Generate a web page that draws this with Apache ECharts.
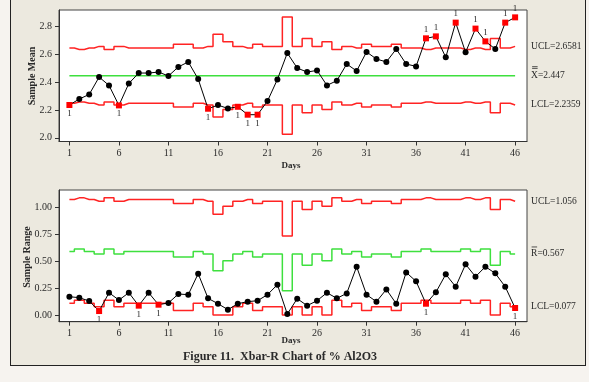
<!DOCTYPE html>
<html>
<head>
<meta charset="utf-8">
<script src="https://cdn.jsdelivr.net/npm/echarts@6/dist/echarts.min.js"></script>
<style>
html,body{margin:0;padding:0;background:#f6f3ef;}
#frame{position:absolute;left:10px;top:0;width:576px;height:366px;box-sizing:border-box;background:#ece9df;border:1px solid #222;border-top:none;}
#main{position:absolute;left:0;top:0;width:589px;height:382px;}
</style>
</head>
<body>
<div id="frame"></div>
<div id="main"></div>
<script>
// days / ticks
const days = [1,2,3,4,5,6,7,8,9,10,11,12,13,14,15,16,17,18,19,20,21,22,23,24,25,26,27,28,29,30,31,32,33,34,35,36,37,38,39,40,41,42,43,44,45,46];
const dayTicks = [1,6,11,16,21,26,31,36,41,46];
const meanTicks = [2.0,2.2,2.4,2.6,2.8];
const rangeTicks = [0,0.25,0.5,0.75,1.0];

// Xbar chart
const xbar = [2.236,2.279,2.312,2.437,2.377,2.233,2.391,2.466,2.466,2.473,2.445,2.510,2.546,2.423,2.209,2.235,2.211,2.223,2.166,2.166,2.264,2.420,2.610,2.502,2.473,2.485,2.377,2.411,2.531,2.481,2.618,2.567,2.546,2.639,2.531,2.514,2.716,2.730,2.579,2.829,2.615,2.786,2.694,2.639,2.829,2.867];
const xbarUCL = [2.646,2.636,2.646,2.658,2.636,2.658,2.646,2.646,2.646,2.646,2.646,2.673,2.673,2.646,2.658,2.746,2.691,2.658,2.646,2.673,2.658,2.658,2.869,2.658,2.714,2.658,2.691,2.636,2.658,2.646,2.673,2.658,2.658,2.673,2.646,2.646,2.636,2.646,2.646,2.646,2.636,2.646,2.636,2.714,2.646,2.658];
const xbarLCL = [2.248,2.258,2.248,2.236,2.258,2.236,2.248,2.248,2.248,2.248,2.248,2.221,2.221,2.248,2.236,2.149,2.203,2.236,2.248,2.221,2.236,2.236,2.025,2.236,2.180,2.236,2.203,2.258,2.236,2.248,2.221,2.236,2.236,2.221,2.248,2.248,2.258,2.248,2.248,2.248,2.258,2.248,2.258,2.180,2.248,2.236];
const xbarCenter = 2.447;

// R chart
const range = [0.170,0.161,0.130,0.037,0.207,0.139,0.207,0.087,0.207,0.096,0.112,0.195,0.189,0.384,0.155,0.105,0.050,0.105,0.124,0.133,0.189,0.282,0.009,0.152,0.087,0.133,0.207,0.155,0.201,0.449,0.189,0.124,0.238,0.105,0.396,0.313,0.105,0.211,0.378,0.263,0.471,0.356,0.449,0.387,0.263,0.065];
const rangeUCL = [1.073,1.088,1.073,1.056,1.088,1.056,1.073,1.073,1.073,1.073,1.073,1.035,1.035,1.073,1.056,0.935,1.011,1.056,1.073,1.035,1.056,1.056,0.734,1.056,0.979,1.056,1.011,1.088,1.056,1.073,1.035,1.056,1.056,1.035,1.073,1.073,1.088,1.073,1.073,1.073,1.088,1.073,1.088,0.979,1.073,1.056];
const rangeCL = [0.591,0.613,0.591,0.567,0.613,0.567,0.591,0.591,0.591,0.591,0.591,0.538,0.538,0.591,0.567,0.410,0.504,0.567,0.591,0.538,0.567,0.567,0.225,0.567,0.463,0.567,0.504,0.613,0.567,0.591,0.538,0.567,0.567,0.538,0.591,0.591,0.613,0.591,0.591,0.591,0.613,0.591,0.613,0.463,0.591,0.567];
const rangeLCL = [0.109,0.137,0.109,0.077,0.137,0.077,0.109,0.109,0.109,0.109,0.109,0.041,0.041,0.109,0.077,0,0,0.077,0.109,0.041,0.077,0.077,0,0.077,0,0.077,0,0.137,0.077,0.109,0.041,0.077,0.077,0.041,0.109,0.109,0.137,0.109,0.109,0.109,0.137,0.109,0.137,0,0.109,0.077];

const FONT = 'Liberation Serif';
const RED = '#ff2323';
const GREEN = '#3ee03e';
const TXT = '#2a2a2a';

function pts(vals){
    return days.map(function(d,i){ return [d, vals[i]]; });
}

// points outside the limits -> red square with "1"
function tests(vals, ucl, lcl){
    return days.map(function(d,i){
        let v = vals[i];
        if(v > ucl[i] || v < lcl[i]){
            return {
                value:[d,v],
                symbol:'rect',
                symbolSize:6,
                itemStyle:{color:'#ff0000'},
                label:{show:true, formatter:'1', position: v > ucl[i] ? 'top' : 'bottom', distance:1,
                       fontFamily:FONT, fontSize:9, color:TXT}
            };
        }
        return [d,v];
    });
}

function stepLine(vals, color, gi){
    return {type:'line', step:'middle', xAxisIndex:gi, yAxisIndex:gi, data:pts(vals),
            symbol:'none', silent:true, lineStyle:{color:color, width:1.5}};
}

function xAxisCfg(gi){
    return {
        type:'value', gridIndex:gi, min:-0.05, max:47.2,
        axisLine:{show:true, onZero:false, lineStyle:{color:'#333'}},
        axisTick:{show:true, customValues:dayTicks, length:4, lineStyle:{color:'#333'}},
        axisLabel:{customValues:dayTicks, margin:7, fontSize:10, color:TXT, fontFamily:FONT},
        splitLine:{show:false}
    };
}

function yAxisCfg(gi, min, max, ticks, dec){
    return {
        type:'value', gridIndex:gi, min:min, max:max,
        axisLine:{show:true, onZero:false, lineStyle:{color:'#333'}},
        axisTick:{show:true, customValues:ticks, length:4, lineStyle:{color:'#333'}},
        axisLabel:{customValues:ticks, margin:7, fontSize:10, color:TXT, fontFamily:FONT,
                   formatter:function(v){ return v.toFixed(dec); }},
        splitLine:{show:false}
    };
}

let myChart = echarts.init(document.getElementById('main'));
myChart.setOption({
    animation:false,
    backgroundColor:'transparent',
    grid:[
        {left:59, top:10, width:468, height:131.5, show:true, backgroundColor:'#fff', borderColor:'#444', borderWidth:1},
        {left:59, top:190, width:468, height:131.7, show:true, backgroundColor:'#fff', borderColor:'#444', borderWidth:1}
    ],
    xAxis:[xAxisCfg(0), xAxisCfg(1)],
    yAxis:[yAxisCfg(0, 1.973, 2.92, meanTicks, 1), yAxisCfg(1, -0.062, 1.161, rangeTicks, 2)],
    series:[
        stepLine(xbarUCL, RED, 0),
        stepLine(xbarLCL, RED, 0),
        {type:'line', xAxisIndex:0, yAxisIndex:0, data:[[days[0],xbarCenter],[days[days.length-1],xbarCenter]],
         symbol:'none', silent:true, lineStyle:{color:GREEN, width:1.5}},
        {type:'line', xAxisIndex:0, yAxisIndex:0, data:tests(xbar, xbarUCL, xbarLCL),
         symbol:'circle', symbolSize:6, itemStyle:{color:'#000'}, lineStyle:{color:'#000', width:1}},
        stepLine(rangeUCL, RED, 1),
        stepLine(rangeCL, GREEN, 1),
        stepLine(rangeLCL, RED, 1),
        {type:'line', xAxisIndex:1, yAxisIndex:1, data:tests(range, rangeUCL, rangeLCL),
         symbol:'circle', symbolSize:6, itemStyle:{color:'#000'}, lineStyle:{color:'#000', width:1}}
    ]
});

// right side limit labels, axis titles, caption
function at(gi, y){ return myChart.convertToPixel({gridIndex:gi}, [days[days.length-1], y]); }
function txt(x, y, s, size, weight, align, rot){
    return {
        type:'text', x:x, y:y, rotation:rot || 0, silent:true,
        style:{text:s, x:0, y:0, fill:TXT, fontFamily:FONT, fontSize:size, fontWeight:weight,
               align:align, verticalAlign:'middle'}
    };
}
function bar(x1, x2, y){
    return {type:'line', shape:{x1:x1, y1:y, x2:x2, y2:y}, style:{stroke:TXT, lineWidth:0.8}, silent:true};
}

let u0 = at(0, 2.6581), c0 = at(0, xbarCenter), l0 = at(0, 2.2359);
let u1 = at(1, 1.056), c1 = at(1, 0.567), l1 = at(1, 0.077);
let lx = u0[0] + 16;

myChart.setOption({
    graphic:[
        txt(lx, u0[1], 'UCL=2.6581', 9.5, 'normal', 'left'),
        txt(lx, c0[1], 'X=2.447', 9.5, 'normal', 'left'),
        bar(lx + 1, lx + 6.5, c0[1] - 9),
        bar(lx + 1, lx + 6.5, c0[1] - 7.3),
        txt(lx, l0[1], 'LCL=2.2359', 9.5, 'normal', 'left'),
        txt(lx, u1[1], 'UCL=1.056', 9.5, 'normal', 'left'),
        txt(lx, c1[1], 'R=0.567', 9.5, 'normal', 'left'),
        bar(lx + 0.5, lx + 6, c1[1] - 7),
        txt(lx, l1[1], 'LCL=0.077', 9.5, 'normal', 'left'),
        txt(32, 76, 'Sample Mean', 10, 'bold', 'center', Math.PI/2),
        txt(27, 257, 'Sample Range', 10, 'bold', 'center', Math.PI/2),
        txt(291, 166, 'Days', 9, 'bold', 'center'),
        txt(291, 341, 'Days', 9, 'bold', 'center'),
        txt(280, 357, 'Figure 11.  Xbar-R Chart of % Al2O3', 12, 'bold', 'center')
    ]
});
</script>
</body>
</html>
